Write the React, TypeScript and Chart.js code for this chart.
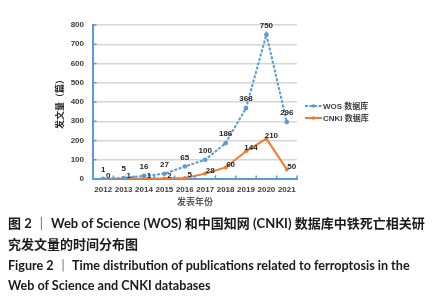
import React, { useEffect, useRef } from "react";
import { Chart, registerables } from "chart.js";

Chart.register(...registerables);

const years = ["2012", "2013", "2014", "2015", "2016", "2017", "2018", "2019", "2020", "2021"];
const wosCounts = [1, 5, 16, 27, 65, 100, 186, 368, 750, 296];
const cnkiCounts = [0, 1, 1, 2, 5, 28, 60, 144, 210, 50];
const seriesNames = ["WOS 数据库", "CNKI 数据库"];
const yMin = 0;
const yMax = 800;
const yStep = 100;
const xTitle = "发表年份";
const yTitle = "发文量（篇）";
const captionLines = [
  "图 2 ｜ Web of Science (WOS) 和中国知网 (CNKI) 数据库中铁死亡相关研",
  "究发文量的时间分布图",
  "Figure 2 ｜ Time distribution of publications related to ferroptosis in the",
  "Web of Science and CNKI databases",
];

const BLUE = "#5B9BD5";
const ORANGE = "#ED7D31";
const TEXT = "#404040";
const FONT = "'Liberation Sans', Arial, 'Noto Sans CJK SC', sans-serif";

const CANVAS_W = 441;
const CANVAS_H = 215;

const decorPlugin = {
  id: "decor",
  afterDatasetsDraw(chart: any) {
    const { ctx, chartArea, scales } = chart;
    const y = scales.y;
    ctx.save();
    // inward tick marks on axes
    ctx.strokeStyle = BLUE;
    ctx.lineWidth = 1.5;
    y.ticks.forEach((t: any) => {
      const py = y.getPixelForValue(t.value);
      ctx.beginPath();
      ctx.moveTo(chartArea.left, py);
      ctx.lineTo(chartArea.left + 3.5, py);
      ctx.stroke();
    });
    const n = years.length;
    const w = (chartArea.right - chartArea.left) / n;
    for (let i = 0; i <= n; i++) {
      const px = chartArea.left + i * w;
      ctx.beginPath();
      ctx.moveTo(px, chartArea.bottom);
      ctx.lineTo(px, chartArea.bottom - 3.5);
      ctx.stroke();
    }
    // data labels
    ctx.font = `bold 8px ${FONT}`;
    ctx.fillStyle = "#262626";
    ctx.textAlign = "center";
    ctx.textBaseline = "middle";
    chart.data.datasets.forEach((ds: any, di: number) => {
      const meta = chart.getDatasetMeta(di);
      meta.data.forEach((pt: any, i: number) => {
        const v = ds.data[i];
        if (di === 0) {
          ctx.fillText(String(v), pt.x, pt.y - 9);
        } else {
          ctx.fillText(String(v), pt.x + 5, pt.y - 3);
        }
      });
    });
    // legend
    const lx0 = 305;
    const lx1 = 322;
    chart.data.datasets.forEach((ds: any, di: number) => {
      const ly = 106 + di * 12;
      ctx.strokeStyle = ds.borderColor;
      ctx.lineWidth = 2;
      ctx.setLineDash(di === 0 ? [3, 1.5] : []);
      ctx.beginPath();
      ctx.moveTo(lx0, ly);
      ctx.lineTo(lx1, ly);
      ctx.stroke();
      ctx.setLineDash([]);
      ctx.fillStyle = ds.borderColor;
      ctx.beginPath();
      ctx.arc((lx0 + lx1) / 2, ly, 1.8, 0, Math.PI * 2);
      ctx.fill();
      ctx.fillStyle = TEXT;
      ctx.textAlign = "left";
      ctx.font = `bold 8px ${FONT}`;
      ctx.fillText(ds.label, lx1 + 1, ly + 0.5);
    });
    ctx.restore();
  },
};

export default function App() {
  const canvasRef = useRef<HTMLCanvasElement | null>(null);

  useEffect(() => {
    if (!canvasRef.current) return;
    const chart = new Chart(canvasRef.current, {
      type: "line",
      data: {
        labels: years,
        datasets: [
          {
            label: seriesNames[0],
            data: wosCounts,
            borderColor: BLUE,
            backgroundColor: BLUE,
            borderWidth: 2,
            borderDash: [3, 1.5],
            pointRadius: 2.3,
            pointBorderWidth: 0,
            pointBackgroundColor: BLUE,
            tension: 0,
          },
          {
            label: seriesNames[1],
            data: cnkiCounts,
            borderColor: ORANGE,
            backgroundColor: ORANGE,
            borderWidth: 2,
            pointRadius: 2,
            pointBorderWidth: 0,
            pointBackgroundColor: ORANGE,
            tension: 0,
          },
        ],
      },
      options: {
        responsive: false,
        animation: false,
        layout: { padding: { top: 25, right: 144, left: 0, bottom: 0 } },
        plugins: {
          legend: { display: false },
          tooltip: { enabled: false },
        },
        scales: {
          x: {
            offset: true,
            grid: { display: false, drawTicks: false },
            border: { display: true, color: BLUE, width: 2 },
            ticks: {
              padding: 6,
              color: TEXT,
              font: { family: FONT, size: 8, weight: "bold" },
              maxRotation: 0,
              autoSkip: false,
            },
            title: {
              display: true,
              text: xTitle,
              color: "#595959",
              font: { family: FONT, size: 9, weight: "bold" },
              padding: { top: 0, bottom: 7 },
            },
            afterFit(scale: any) {
              scale.height = CANVAS_H - 179;
            },
          },
          y: {
            min: yMin,
            max: yMax,
            grid: { color: "#D6D6D6", lineWidth: 1.5, drawTicks: false },
            border: { display: true, color: BLUE, width: 2 },
            ticks: {
              stepSize: yStep,
              padding: 9,
              color: TEXT,
              font: { family: FONT, size: 8, weight: "bold" },
            },
            title: {
              display: true,
              text: yTitle,
              color: "#262626",
              font: { family: FONT, size: 9, weight: "bold" },
              padding: { top: 55, bottom: 0 },
            },
            afterFit(scale: any) {
              scale.width = 93;
            },
          },
        },
      },
      plugins: [decorPlugin],
    } as any);
    return () => chart.destroy();
  }, []);

  const captionFont = "Lato, 'Noto Sans CJK SC', sans-serif";
  const lineTops = [213, 234, 255, 275];
  const lineSizes = [13, 13, 12.6, 12.6];

  return (
    <div
      style={{
        position: "fixed",
        left: 0,
        top: 0,
        width: 441,
        height: 300,
        background: "#ffffff",
        overflow: "hidden",
      }}
    >
      <canvas
        ref={canvasRef}
        width={CANVAS_W}
        height={CANVAS_H}
        style={{ position: "absolute", left: 0, top: 0, width: CANVAS_W, height: CANVAS_H }}
      />
      {captionLines.map((line, i) => (
        <div
          key={i}
          style={{
            position: "absolute",
            left: 8,
            top: lineTops[i],
            height: 21,
            lineHeight: "21px",
            whiteSpace: "nowrap",
            fontFamily: captionFont,
            fontWeight: 700,
            fontSize: lineSizes[i],
            color: "#1a1a1a",
          }}
        >
          {line}
        </div>
      ))}
    </div>
  );
}
